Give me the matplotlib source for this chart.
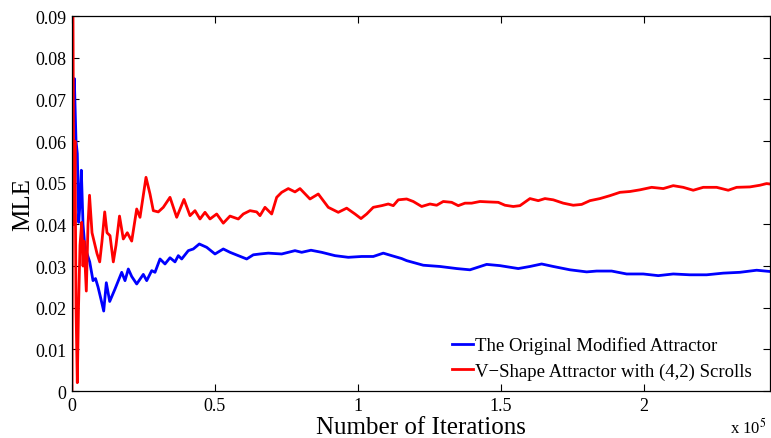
import matplotlib
matplotlib.use("Agg")
import matplotlib.pyplot as plt
from matplotlib.ticker import FuncFormatter

plt.rcParams['font.family'] = ['Liberation Serif', 'DejaVu Serif']
plt.rcParams['mathtext.fontset'] = 'stix'

# iterations and MLE values
blue_x = [350, 804, 1399, 1853, 2343, 2797, 3252, 3846, 4441, 5245, 6189, 7343, 8217,
          9091, 10140, 11084, 11993, 13182, 15035, 17378, 18531, 19685, 20874, 22622,
          24930, 26119, 27867, 29021, 30769, 32517, 34266, 36014, 37168, 38357, 40664,
          42413, 44510, 47098, 50000, 52902, 55245, 58147, 61084, 63392, 65734, 68636,
          73322, 77972, 80315, 83566, 87308, 91958, 96608, 101294, 105350, 108846,
          111783, 115280, 117028, 122832, 128671, 134510, 139161, 145000, 149650,
          156049, 160140, 164231, 168287, 174126, 179965, 183462, 188706, 193951,
          199755, 205000, 210245, 216084, 221923, 227727, 233566, 239406, 244000]
blue_y = [0.065, 0.075, 0.060, 0.057, 0.0405, 0.045, 0.053, 0.040, 0.035, 0.033, 0.031,
          0.0265, 0.027, 0.025, 0.022, 0.0192, 0.026, 0.0215, 0.0245, 0.0285, 0.0265,
          0.0293, 0.0275, 0.0257, 0.028, 0.0265, 0.0289, 0.0285, 0.0317, 0.0305, 0.032,
          0.031, 0.0325, 0.0317, 0.0337, 0.0341, 0.0353, 0.0345, 0.0329, 0.0341, 0.0333,
          0.0325, 0.0317, 0.0327, 0.0329, 0.0331, 0.0329, 0.0337, 0.0333, 0.0338, 0.0333,
          0.0325, 0.0321, 0.0323, 0.0323, 0.0331, 0.0325, 0.0318, 0.0313, 0.0302, 0.0299,
          0.0294, 0.0291, 0.0304, 0.0301, 0.0294, 0.0299, 0.0305, 0.0299, 0.0291, 0.0286,
          0.0288, 0.0288, 0.0281, 0.0281, 0.0277, 0.0281, 0.0279, 0.0279, 0.0283, 0.0285,
          0.029, 0.0287]

red_x = [0, 280, 699, 1049, 1399, 1853, 2273, 2797, 3392, 3846, 4196, 5000, 5594, 6119,
         6993, 8042, 8741, 9685, 10490, 11434, 12238, 13287, 14441, 15385, 16608, 17937,
         19336, 20874, 22622, 23776, 25874, 27273, 28427, 30175, 31923, 34266, 36608,
         39161, 41259, 43007, 44755, 46503, 48252, 50594, 52902, 55245, 58147, 59895,
         62238, 64580, 65734, 67483, 69825, 71573, 73322, 75629, 77972, 79720, 83217,
         86119, 89615, 93112, 96049, 98951, 101049, 103042, 105350, 108287, 110594,
         112343, 114091, 117028, 119336, 122273, 125175, 127517, 129825, 132762, 135070,
         137413, 139755, 142657, 145559, 149056, 151399, 154301, 156643, 160140, 163042,
         165385, 168287, 171783, 175280, 178217, 181119, 184615, 188112, 191608, 195105,
         198601, 202692, 206748, 210245, 213741, 217238, 220734, 225420, 229476, 232413,
         237063, 240559, 242902, 244000]
red_y = [0.0, 0.09, 0.04, 0.06, 0.02, 0.002, 0.02, 0.035, 0.0405, 0.03, 0.036, 0.024,
         0.04, 0.047, 0.038, 0.035, 0.033, 0.031, 0.036, 0.043, 0.038, 0.0373, 0.031,
         0.035, 0.042, 0.0365, 0.038, 0.036, 0.0437, 0.0417, 0.0513, 0.0473, 0.0433,
         0.043, 0.0441, 0.0465, 0.0417, 0.046, 0.0421, 0.0433, 0.0413, 0.0429, 0.0413,
         0.0425, 0.0403, 0.042, 0.0413, 0.0425, 0.0433, 0.043, 0.0421, 0.0441, 0.0425,
         0.0465, 0.0477, 0.0486, 0.0478, 0.0486, 0.0461, 0.0473, 0.0441, 0.0429, 0.0439,
         0.0425, 0.0414, 0.0425, 0.0441, 0.0445, 0.0449, 0.0445, 0.0459, 0.0461, 0.0455,
         0.0443, 0.0449, 0.0446, 0.0455, 0.0453, 0.0445, 0.0451, 0.0451, 0.0455, 0.0454,
         0.0453, 0.0446, 0.0443, 0.0445, 0.0462, 0.0457, 0.0462, 0.0459, 0.0451, 0.0446,
         0.0448, 0.0457, 0.0462, 0.0469, 0.0477, 0.0479, 0.0483, 0.0489, 0.0486, 0.0493,
         0.0489, 0.0482, 0.0489, 0.0489, 0.0482, 0.0489, 0.049, 0.0494, 0.0498, 0.0497]

labels = ["The Original Modified Attractor", "V\u2212Shape Attractor with (4,2) Scrolls"]

fig = plt.figure(figsize=(7.71, 4.39), dpi=100)
ax = fig.add_axes([0.0934, 0.107, 0.905, 0.854])

ax.plot(blue_x, blue_y, color=(0, 0, 1), lw=2.0, label=labels[0])
ax.plot(red_x, red_y, color=(1, 0, 0), lw=2.0, label=labels[1])

ax.set_xlim(0, 244000)
ax.set_ylim(0, 0.09)
ax.set_xticks([0, 50000, 100000, 150000, 200000])
ax.xaxis.set_major_formatter(FuncFormatter(lambda v, p: "%g" % (v / 1e5)))
ax.set_yticks([i / 100 for i in range(10)])
ax.yaxis.set_major_formatter(FuncFormatter(lambda v, p: "%g" % v))
ax.tick_params(direction='in', top=True, right=True, length=5, width=0.8,
               labelsize=13, pad=4)
for s in ax.spines.values():
    s.set_linewidth(0.9)

ax.set_xlabel("Number of Iterations", fontsize=18, labelpad=2)
ax.set_ylabel("MLE", fontsize=18, labelpad=1)
fig.text(0.947, 0.012, r"x 10$^5$", fontsize=12)

ax.legend(loc='lower right', bbox_to_anchor=(0.99, 0.0), frameon=False,
          fontsize=13.5, handlelength=1.07, handletextpad=0.12,
          borderaxespad=0.2, labelspacing=0.43)

fig.savefig("out.png", dpi=100)
